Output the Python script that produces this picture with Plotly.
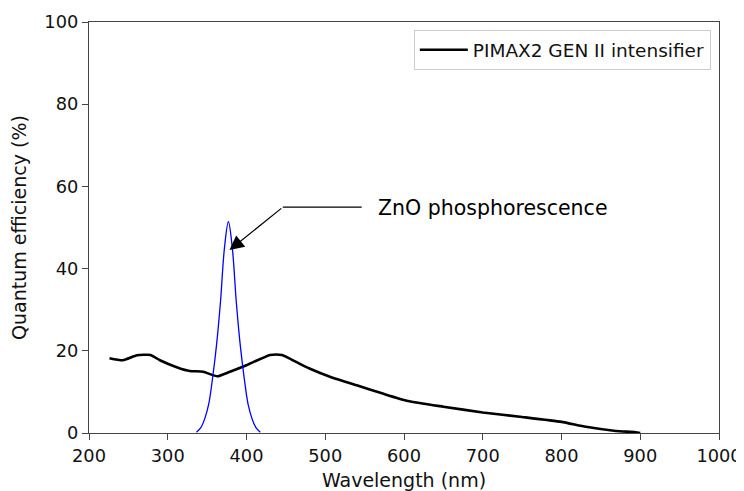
import plotly.graph_objects as go

# PIMAX2 GEN II intensifier quantum efficiency
pimax_nm = [226, 243, 261, 278, 290, 313, 328, 345, 363, 379, 400, 430, 445,
            463, 480, 506, 540, 573, 605, 650, 700, 750, 800, 831, 869, 894, 900]
pimax_qe = [18.2, 17.7, 18.9, 19.0, 17.7, 15.9, 15.1, 14.9, 13.8, 14.9, 16.5, 19.0, 19.0,
            17.3, 15.7, 13.7, 11.6, 9.6, 7.8, 6.4, 5.0, 3.9, 2.7, 1.5, 0.5, 0.2, 0.0]

# ZnO phosphorescence emission band
zno_nm = [336.5, 342, 347, 352, 357, 362, 367, 372, 377, 382, 387, 392, 397, 402, 407, 412, 417.5]
zno_val = [0.2, 1.3, 3.5, 7.0, 13.5, 21.5, 32.0, 45.0, 51.4, 45.0, 32.0, 21.5, 13.5, 7.0, 3.5, 1.3, 0.2]

x_ticks = [200, 300, 400, 500, 600, 700, 800, 900, 1000]
y_ticks = [0, 20, 40, 60, 80, 100]

font = "DejaVu Sans"
axis_color = "#444444"

fig = go.Figure()
fig.add_trace(go.Scatter(x=pimax_nm, y=pimax_qe, mode="lines", name="PIMAX2 GEN II intensifier",
                         line=dict(color="black", width=2.6, shape="spline", smoothing=0.5)))
fig.add_trace(go.Scatter(x=zno_nm, y=zno_val, mode="lines", showlegend=False,
                         line=dict(color="#0000ff", width=1.3, shape="spline", smoothing=1.0)))

# annotation: text, horizontal leader, then arrow to the peak
fig.add_annotation(x=565, y=54.85, xref="x", yref="y", text="ZnO phosphorescence",
                   showarrow=False, xanchor="left", yanchor="middle",
                   font=dict(family=font, size=20.5, color="black"))
fig.add_shape(type="line", x0=446.1, y0=54.95, x1=546.3, y1=54.95, xref="x", yref="y",
              line=dict(color="black", width=1.2))
fig.add_annotation(x=378.4, y=44.5, ax=446.1, ay=54.95, xref="x", yref="y", axref="x", ayref="y",
                   text="", showarrow=True, arrowhead=2, arrowsize=2.4, arrowwidth=1.2,
                   arrowcolor="black")

# the page body has an 8px margin, so the figure is sized/offset to compensate
fig.update_layout(
    width=736, height=483,
    margin=dict(l=81, r=25, t=14, b=58),
    plot_bgcolor="white", paper_bgcolor="white",
    font=dict(family=font, size=17.8, color="#111111"),
    showlegend=True,
    legend=dict(x=0.987, y=0.98, xanchor="right", yanchor="top", itemwidth=48,
                bordercolor="#cccccc", borderwidth=1, bgcolor="white",
                font=dict(family=font, size=18.5, color="#111111")),
)
fig.update_xaxes(range=[200, 1000], tickvals=x_ticks, ticks="outside", ticklen=6,
                 tickcolor=axis_color, showline=True, linecolor=axis_color, linewidth=1.3,
                 mirror=True, showgrid=False, zeroline=False, automargin=False,
                 title=dict(text="Wavelength (nm)", font=dict(size=19)))
fig.update_yaxes(range=[0, 100], tickvals=y_ticks, ticks="outside", ticklen=6,
                 tickcolor=axis_color, showline=True, linecolor=axis_color, linewidth=1.3,
                 mirror=True, showgrid=False, zeroline=False, automargin=False,
                 title=dict(text="Quantum efficiency (%)", font=dict(size=19)))

fig.write_html("out.html")
